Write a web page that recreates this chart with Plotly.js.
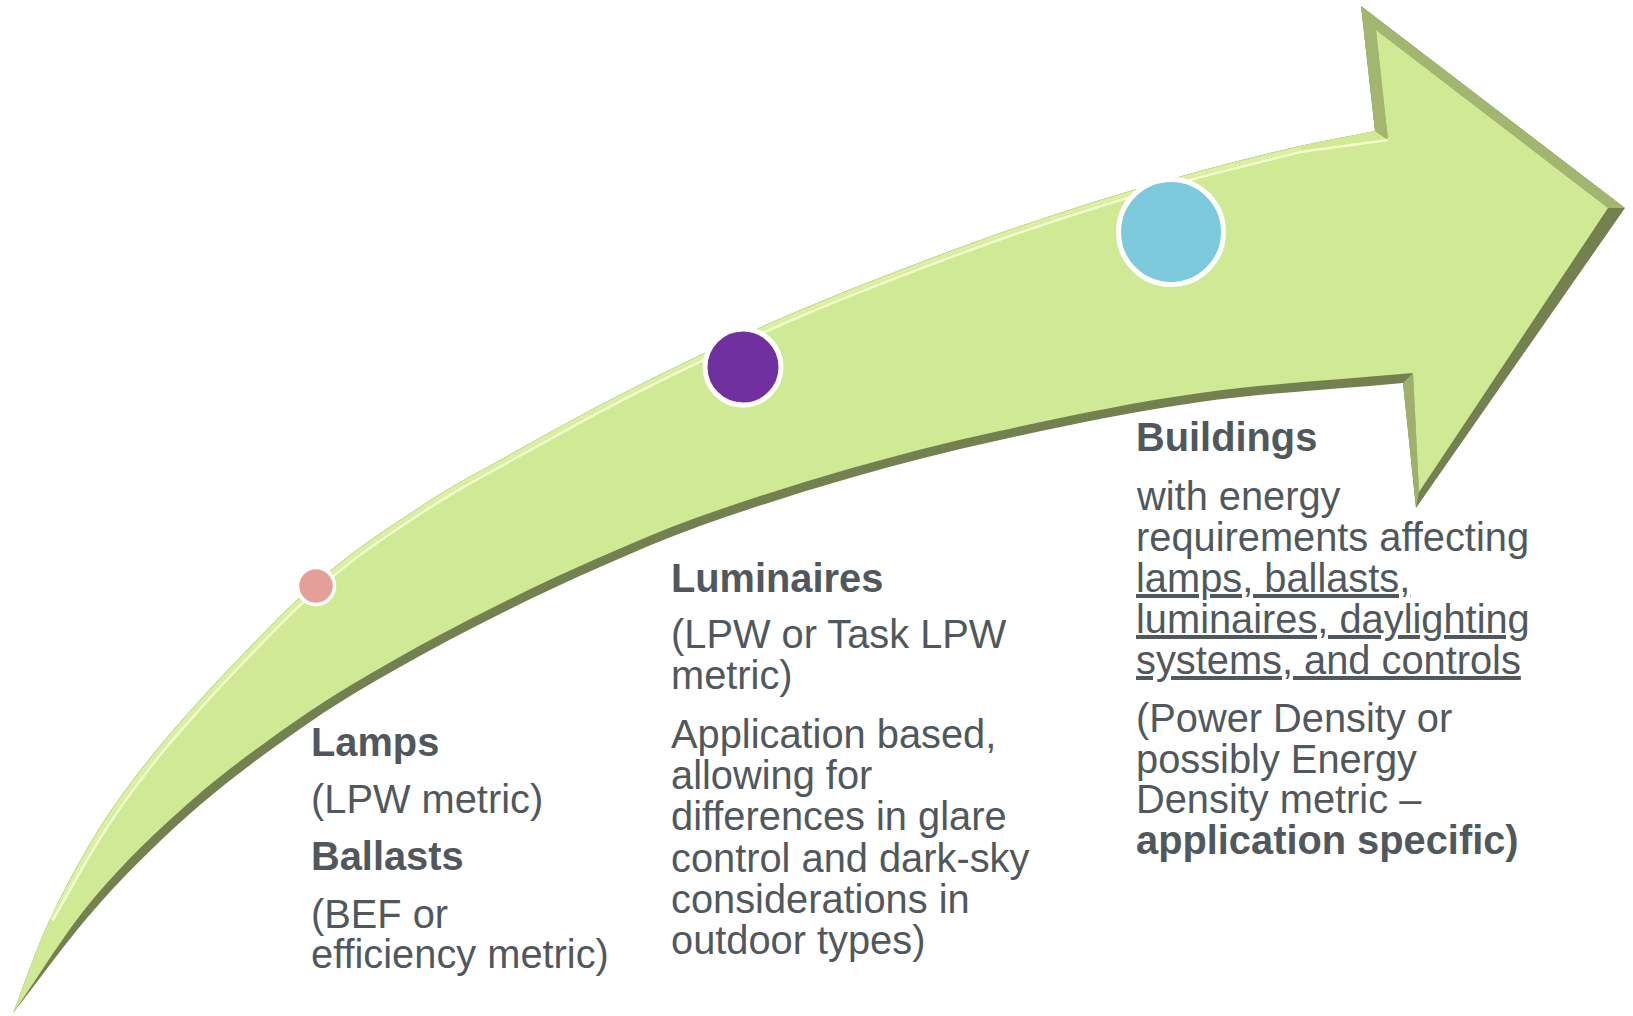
<!DOCTYPE html>
<html>
<head>
<meta charset="utf-8">
<script src="https://cdn.plot.ly/plotly-3.0.1.min.js"></script>
<style>
  html, body { margin: 0; padding: 0; background: #ffffff; }
  #chart { width: 1633px; height: 1016px; }
</style>
</head>
<body>
<div id="chart"></div>
<script>
// ---------------- DATA ----------------
const stages = ['Lamps / Ballasts', 'Luminaires', 'Buildings'];
const stageX = [316, 743, 1171];
const stageY = [586, 367, 232];

const lampsLines = ['<b>Lamps</b>', '(LPW metric)', '<b>Ballasts</b>', '(BEF or', 'efficiency metric)'];
const luminairesLines = ['<b>Luminaires</b>', '(LPW or Task LPW', 'metric)', 'Application based,',
  'allowing for', 'differences in glare', 'control and dark-sky', 'considerations in', 'outdoor types)'];
const buildingsLines = ['<b>Buildings</b>', 'with energy', 'requirements affecting', 'lamps, ballasts,',
  'luminaires, daylighting', 'systems, and controls', '(Power Density or', 'possibly Energy',
  'Density metric \u2013', '<b>application specific)</b>'];
const buildingsUnderlined = [false, false, false, true, true, true, false, false, false, false];

// ---------------- LAYOUT / GEOMETRY ----------------
const W = 1633, H = 1016;
const markerSizes = [37, 76, 105];
const markerLineWidths = [3.5, 5, 5];
const markerColors = ['#e49f98', '#7030a0', '#7ecadd'];

const blocks = [
  { lines: lampsLines, x: 310, base: [756, 813, 870, 928, 968] },
  { lines: luminairesLines, x: 670, base: [592, 648, 689, 748, 789, 830, 872, 913, 954] },
  { lines: buildingsLines, x: 1135, base: [451, 510, 551, 592, 633, 674, 732, 773, 813, 854], underline: buildingsUnderlined }
];

// arrow outline (pixel space)
const upperEdge = [[13,1013],[50,919],[100,827],[150,758],[200,700],[250,647],[300,597],[350,555],[400,520],
  [450,488],[500,460],[600,405],[700,355],[800,310],[900,270],[1000,233],[1100,200],[1200,171],[1300,146],[1375,131]];
const lowerEdge = [[13,1013],[100,903],[200,805],[313,720],[400,667],[500,614],[600,567],[700,526],
  [850,478],[1000,440],[1200,402],[1403,383]];
const headTop = [1361, 6], headPoint = [1625, 208], headBottom = [1416, 508];
const innerN1 = [1388, 140], innerTop = [1376, 30], innerPoint = [1608, 208], innerBottom = [1419, 492], innerN2 = [1413, 373];

function f(p) { return p[0].toFixed(1) + ',' + p[1].toFixed(1); }
function unit(a, b) { const dx = b[0] - a[0], dy = b[1] - a[1]; const l = Math.hypot(dx, dy) || 1; return [dx / l, dy / l]; }
// smooth curve through points, tangents scaled by segment length (no overshoot on uneven spacing)
function spline(pts) {
  let d = '';
  for (let i = 0; i < pts.length - 1; i++) {
    const p0 = pts[i - 1] || pts[i], p1 = pts[i], p2 = pts[i + 1], p3 = pts[i + 2] || pts[i + 1];
    const seg = Math.hypot(p2[0] - p1[0], p2[1] - p1[1]);
    const m1 = unit(p0, p2), m2 = unit(p1, p3);
    const c1 = [p1[0] + m1[0] * seg / 3, p1[1] + m1[1] * seg / 3];
    const c2 = [p2[0] - m2[0] * seg / 3, p2[1] - m2[1] * seg / 3];
    d += ' C' + f(c1) + ' ' + f(c2) + ' ' + f(p2);
  }
  return d;
}
// offset a polyline along its normal; sign +1 => rotate tangent +90deg (screen)
function offset(pts, dist, sign, taperLen) {
  const tail = pts[0];
  return pts.map((p, i) => {
    const a = pts[Math.max(0, i - 1)], b = pts[Math.min(pts.length - 1, i + 1)];
    const t = unit(a, b);
    const nx = sign > 0 ? -t[1] : t[1], ny = sign > 0 ? t[0] : -t[0];
    const dt = Math.hypot(p[0] - tail[0], p[1] - tail[1]);
    const k = Math.min(1, dt / taperLen);
    return [p[0] + nx * dist * k, p[1] + ny * dist * k];
  });
}

const N1 = upperEdge[upperEdge.length - 1];
const N2 = lowerEdge[lowerEdge.length - 1];
const tailPt = upperEdge[0];

const outerPath = 'M' + f(tailPt) + spline(upperEdge) + ' L' + f(headTop) + ' L' + f(headPoint) +
  ' L' + f(headBottom) + ' L' + f(N2) + spline(lowerEdge.slice().reverse()) + ' Z';

const lowerInner = offset(lowerEdge.slice(0, -1), 9, -1, 160).reverse();
const innerPath = 'M' + f(tailPt) + spline(upperEdge) + ' L' + f(innerN1) + ' L' + f(innerTop) +
  ' L' + f(innerPoint) + ' L' + f(innerBottom) + ' L' + f(innerN2) +
  spline([innerN2].concat(lowerInner.slice(0, -1)).concat([tailPt])) + ' Z';

const topBand = 'M' + f(N1) + ' L' + f(headTop) + ' L' + f(headPoint) + ' L' + f(innerPoint) +
  ' L' + f(innerTop) + ' L' + f(innerN1) + ' Z';
const bottomBand = 'M' + f(N2) + ' L' + f(headBottom) + ' L' + f(innerBottom) + ' L' + f(innerN2) + ' Z';

const hl = offset(upperEdge, 6, 1, 200).slice(1, -1);
const highlightPath = 'M' + f(hl[0]) + spline(hl) + ' L' + f(innerN1);
const hl2 = offset(upperEdge, 2.5, 1, 200).slice(1, -1);
const highlightPath2 = 'M' + f(hl2[0]) + spline(hl2);

const shapes = [
  { type: 'path', path: outerPath, fillcolor: '#72814f', line: { width: 0 }, layer: 'below', xref: 'x', yref: 'y' },
  { type: 'path', path: topBand, fillcolor: '#a3b670', line: { width: 0 }, layer: 'below', xref: 'x', yref: 'y' },
  { type: 'path', path: bottomBand, fillcolor: '#9db16a', line: { width: 0 }, layer: 'below', xref: 'x', yref: 'y' },
  { type: 'path', path: innerPath, fillcolor: '#d0e994', line: { width: 0 }, layer: 'below', xref: 'x', yref: 'y' },
  { type: 'path', path: highlightPath2, fillcolor: 'rgba(0,0,0,0)', line: { width: 3, color: '#dbf0a5' }, layer: 'below', xref: 'x', yref: 'y' },
  { type: 'path', path: highlightPath, fillcolor: 'rgba(0,0,0,0)', line: { width: 2.5, color: '#f4ffcc' }, layer: 'below', xref: 'x', yref: 'y' }
];

// ---------------- TEXT ----------------
const FS = 39.8;
const FONT = 'Liberation Sans, Arial, sans-serif';
const TEXT_COLOR = '#51585d';
const annotations = [];
blocks.forEach(b => {
  b.lines.forEach((t, i) => {
    const font = { family: FONT, size: FS, color: TEXT_COLOR };
    if (b.underline && b.underline[i]) font.lineposition = 'under';
    annotations.push({
      x: b.x, y: b.base[i] - 0.3465 * FS, xref: 'x', yref: 'y',
      text: t, showarrow: false, xanchor: 'left', yanchor: 'middle',
      borderpad: 0, font: font
    });
  });
});

const trace = {
  type: 'scatter', mode: 'markers', x: stageX, y: stageY, text: stages, hoverinfo: 'text',
  cliponaxis: false,
  marker: { size: markerSizes, color: markerColors, line: { color: '#ffffff', width: markerLineWidths }, opacity: 1 }
};

const layout = {
  width: W, height: H,
  margin: { l: 0, r: 0, t: 0, b: 0 },
  paper_bgcolor: '#ffffff', plot_bgcolor: '#ffffff',
  showlegend: false,
  xaxis: { range: [0, W], visible: false, fixedrange: true },
  yaxis: { range: [H, 0], visible: false, fixedrange: true },
  shapes: shapes,
  annotations: annotations
};

Plotly.newPlot('chart', [trace], layout, { displayModeBar: false, staticPlot: true });
</script>
</body>
</html>
